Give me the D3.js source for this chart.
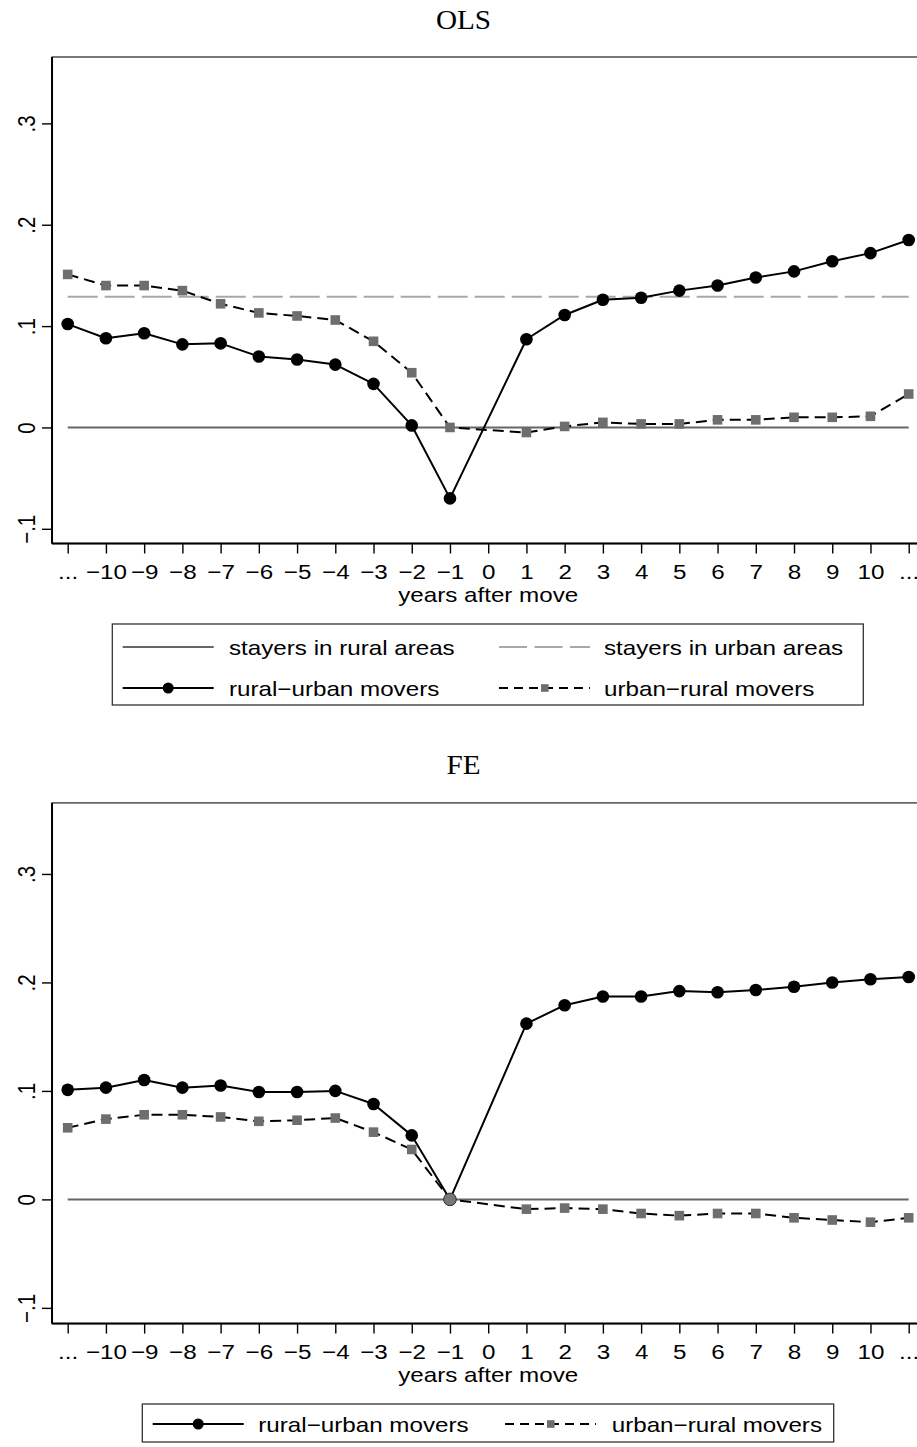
<!DOCTYPE html>
<html>
<head>
<meta charset="utf-8">
<script src="https://cdn.jsdelivr.net/npm/d3@7"></script>
<style>
  html, body { margin: 0; padding: 0; background: #fff; }
  svg { display: block; }
</style>
</head>
<body>
<script>
// Years relative to the move; -11 and 11 are the open-ended bins shown as "..."
const years = d3.range(-11, 12);
const yearLabels = ["...", "\u221210", "\u22129", "\u22128", "\u22127", "\u22126", "\u22125", "\u22124", "\u22123", "\u22122", "\u22121",
  "0", "1", "2", "3", "4", "5", "6", "7", "8", "9", "10", "..."];
const yTicks = [-0.1, 0, 0.1, 0.2, 0.3];
const yTickLabels = ["\u2212.1", "0", ".1", ".2", ".3"];

// OLS estimates (null = year of the move, not estimated)
const olsRuralUrban = [0.102, 0.088, 0.093, 0.082, 0.083, 0.070, 0.067, 0.062, 0.043, 0.002, -0.070,
  null, 0.087, 0.111, 0.126, 0.128, 0.135, 0.140, 0.148, 0.154, 0.164, 0.172, 0.185];
const olsUrbanRural = [0.151, 0.140, 0.140, 0.135, 0.122, 0.113, 0.110, 0.106, 0.085, 0.054, 0.000,
  null, -0.005, 0.001, 0.005, 0.0035, 0.0035, 0.0075, 0.0075, 0.010, 0.010, 0.011, 0.033];
const olsRuralStayers = 0;
const olsUrbanStayers = 0.129;

// FE estimates, normalised to zero one year before the move
const feRuralUrban = [0.101, 0.103, 0.110, 0.103, 0.105, 0.099, 0.099, 0.100, 0.088, 0.059, 0.000,
  null, 0.162, 0.179, 0.187, 0.187, 0.192, 0.191, 0.193, 0.196, 0.200, 0.203, 0.205];
const feUrbanRural = [0.066, 0.074, 0.078, 0.078, 0.076, 0.072, 0.073, 0.075, 0.062, 0.046, 0.000,
  null, -0.009, -0.008, -0.009, -0.013, -0.015, -0.013, -0.013, -0.017, -0.019, -0.021, -0.017];
const feRuralStayers = 0;
const feReferenceYear = -1;

const legendLabels = {
  ruralStayers: "stayers in rural areas",
  urbanStayers: "stayers in urban areas",
  ruralUrban: "rural\u2212urban movers",
  urbanRural: "urban\u2212rural movers"
};

const W = 917, H = 1447;
const SX = 1.18;               // horizontal stretch of the exported graph's lettering
const FONT = "'Liberation Sans', Arial, Helvetica, sans-serif";
const SERIF = "'Liberation Serif', 'Times New Roman', Times, serif";
const FS = 20.5;

const svg = d3.select("body").append("svg")
  .attr("width", W).attr("height", H)
  .style("background", "#fff");

const x = d3.scaleLinear().domain([-11, 11]).range([67.7, 908.7]);
const xPad = 0.41;
const plotLeft = x(-11 - xPad), plotRight = x(11 + xPad);

const style = {
  ruralStayers: { stroke: "#666", width: 2, dash: null },
  urbanStayers: { stroke: "#a8a8a8", width: 2, dash: "30,7" },
  ruralUrban: { stroke: "#000", width: 2, dash: null },
  urbanRural: { stroke: "#000", width: 2, dash: "11,6" }
};

function stretched(sel, tx, ty, extra, sx) {
  return sel.attr("transform", `translate(${tx},${ty}) scale(${sx || SX},1)${extra || ""}`);
}

function drawPanel(cfg) {
  const g = svg.append("g");
  const y = d3.scaleLinear().domain([-0.1145, 0.3655]).range([cfg.bottom, cfg.top]);

  // title
  stretched(g.append("text"), 463.5, cfg.titleY, "", 1.08)
    .attr("text-anchor", "middle")
    .attr("font-family", SERIF).attr("font-size", 27).attr("fill", "#000")
    .text(cfg.title);

  // frame
  g.append("rect")
    .attr("x", plotLeft).attr("y", cfg.top)
    .attr("width", plotRight - plotLeft).attr("height", cfg.bottom - cfg.top)
    .attr("fill", "none").attr("stroke", "#333").attr("stroke-width", 1.3);

  // axes
  const xAxis = g.append("g").attr("transform", `translate(0,${cfg.bottom})`)
    .call(d3.axisBottom(x).tickValues(years).tickFormat((d, i) => yearLabels[i]).tickSize(10).tickSizeOuter(0));
  xAxis.select(".domain").attr("d", `M${plotLeft},0H${plotRight}`).attr("stroke", "#000").attr("stroke-width", 2);
  xAxis.selectAll(".tick line").attr("stroke", "#000").attr("stroke-width", 1.4);
  xAxis.selectAll(".tick text")
    .attr("y", null).attr("dy", null)
    .attr("font-family", FONT).attr("font-size", FS).attr("fill", "#000")
    .each(function () { stretched(d3.select(this), 0, 35.5); });

  const yAxis = g.append("g").attr("transform", `translate(${plotLeft},0)`)
    .call(d3.axisLeft(y).tickValues(yTicks).tickFormat((d, i) => yTickLabels[i]).tickSize(10).tickSizeOuter(0));
  yAxis.select(".domain").attr("d", `M0,${cfg.top}V${cfg.bottom}`).attr("stroke", "#000").attr("stroke-width", 2);
  yAxis.selectAll(".tick line").attr("stroke", "#000").attr("stroke-width", 1.4);
  yAxis.selectAll(".tick text")
    .attr("x", null).attr("dy", null)
    .attr("text-anchor", "middle")
    .attr("font-family", FONT).attr("font-size", FS).attr("fill", "#000")
    .each(function () { stretched(d3.select(this), -17, 0, " rotate(-90)"); });

  // reference lines for stayers
  cfg.stayers.forEach(s => {
    const st = style[s.key];
    g.append("line")
      .attr("x1", x(-11)).attr("x2", x(11))
      .attr("y1", y(s.value)).attr("y2", y(s.value))
      .attr("stroke", st.stroke).attr("stroke-width", st.width)
      .attr("stroke-dasharray", st.dash);
  });

  const line = d3.line().x(d => x(d.year)).y(d => y(d.value));
  const toPoints = arr => years.map((yr, i) => ({ year: yr, value: arr[i] })).filter(d => d.value != null);

  const ru = toPoints(cfg.ruralUrban);
  const ur = toPoints(cfg.urbanRural);

  g.append("path").datum(ru).attr("d", line)
    .attr("fill", "none").attr("stroke", style.ruralUrban.stroke).attr("stroke-width", style.ruralUrban.width)
    .attr("stroke-linejoin", "round");
  g.selectAll(".ru").data(ru).join("circle")
    .attr("cx", d => x(d.year)).attr("cy", d => y(d.value))
    .attr("r", 6.3).attr("fill", "#000");

  g.append("path").datum(ur).attr("d", line)
    .attr("fill", "none").attr("stroke", style.urbanRural.stroke).attr("stroke-width", style.urbanRural.width)
    .attr("stroke-dasharray", style.urbanRural.dash);
  g.selectAll(".ur").data(ur).join("rect")
    .attr("x", d => x(d.year) - 4.8).attr("y", d => y(d.value) - 4.8)
    .attr("width", 9.6).attr("height", 9.6).attr("fill", "#6e6e6e");

  if (cfg.reference != null) {
    g.append("circle")
      .attr("cx", x(cfg.reference)).attr("cy", y(0))
      .attr("r", 6.3).attr("fill", "#777").attr("stroke", "#333").attr("stroke-width", 1);
  }

  // x title
  stretched(g.append("text"), (plotLeft + plotRight) / 2, cfg.bottom + 58)
    .attr("text-anchor", "middle")
    .attr("font-family", FONT).attr("font-size", FS).attr("fill", "#000")
    .text("years after move");

  // legend
  const L = cfg.legend;
  g.append("rect")
    .attr("x", L.x0).attr("y", L.y0).attr("width", L.x1 - L.x0).attr("height", L.y1 - L.y0)
    .attr("fill", "#fff").attr("stroke", "#333").attr("stroke-width", 1.3);
  L.items.forEach(it => {
    const st = style[it.key];
    g.append("line")
      .attr("x1", it.sx).attr("x2", it.sx + 91).attr("y1", it.y).attr("y2", it.y)
      .attr("stroke", st.stroke).attr("stroke-width", st.width)
      .attr("stroke-dasharray", it.key === "urbanRural" ? "9,6" : (it.key === "urbanStayers" ? "28,7.5" : null));
    if (it.key === "ruralUrban") {
      g.append("circle").attr("cx", it.sx + 45.5).attr("cy", it.y).attr("r", 5.5).attr("fill", "#000");
    } else if (it.key === "urbanRural") {
      g.append("rect").attr("x", it.sx + 42).attr("y", it.y - 3.8).attr("width", 7.6).attr("height", 7.6).attr("fill", "#6e6e6e");
    }
    stretched(g.append("text"), it.tx, it.y + 7.5)
      .attr("font-family", FONT).attr("font-size", FS).attr("fill", "#000")
      .text(legendLabels[it.key]);
  });
}

drawPanel({
  title: "OLS", titleY: 28.5, top: 57, bottom: 543.5,
  ruralUrban: olsRuralUrban, urbanRural: olsUrbanRural,
  stayers: [{ key: "ruralStayers", value: olsRuralStayers }, { key: "urbanStayers", value: olsUrbanStayers }],
  reference: null,
  legend: {
    x0: 112.3, x1: 863.3, y0: 624, y1: 705,
    items: [
      { key: "ruralStayers", sx: 122.7, tx: 229, y: 647 },
      { key: "urbanStayers", sx: 499, tx: 604, y: 647 },
      { key: "ruralUrban", sx: 122.7, tx: 229, y: 688 },
      { key: "urbanRural", sx: 499, tx: 604, y: 688 }
    ]
  }
});

drawPanel({
  title: "FE", titleY: 774, top: 802.9, bottom: 1323.6,
  ruralUrban: feRuralUrban, urbanRural: feUrbanRural,
  stayers: [{ key: "ruralStayers", value: feRuralStayers }],
  reference: feReferenceYear,
  legend: {
    x0: 142.3, x1: 833.7, y0: 1404, y1: 1442,
    items: [
      { key: "ruralUrban", sx: 152.7, tx: 258.3, y: 1424 },
      { key: "urbanRural", sx: 505, tx: 611.7, y: 1424 }
    ]
  }
});
</script>
</body>
</html>
